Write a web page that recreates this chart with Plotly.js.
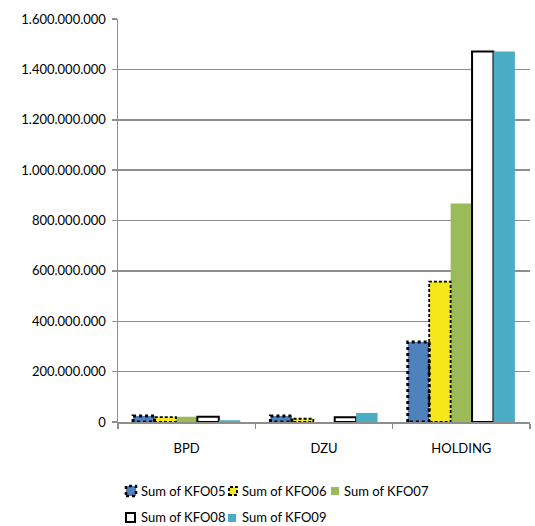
<!DOCTYPE html>
<html>
<head>
<meta charset="utf-8">
<script src="https://cdn.plot.ly/plotly-3.0.1.min.js"></script>
<style>
  html, body { margin: 0; padding: 0; background: #fff; }
  #chart { width: 535px; height: 526px; }
</style>
</head>
<body>
<div id="chart"></div>
<script>
// Categories and yearly sums
const categories = ['BPD', 'DZU', 'HOLDING'];
const seriesNames = ['Sum of KFO05', 'Sum of KFO06', 'Sum of KFO07', 'Sum of KFO08', 'Sum of KFO09'];
const kfo05 = [24e6, 24e6, 318e6];
const kfo06 = [19e6, 13e6, 557e6];
const kfo07 = [21e6, 0, 867e6];
const kfo08 = [21e6, 19e6, 1471e6];
const kfo09 = [7e6, 36e6, 1471e6];
const yTicks = [0, 2e8, 4e8, 6e8, 8e8, 1e9, 1.2e9, 1.4e9, 1.6e9];

const W = 535, H = 526;
const M = { l: 118, r: 5, t: 19, b: 104 };
const FONT = 'Lato, "Open Sans", sans-serif';

const values = [kfo05, kfo06, kfo07, kfo08, kfo09];
const styles = [
  { fill: '#4F81BD', line: { width: 0 }, outline: { color: '#000', width: 3, dash: 'dot' } },
  { fill: '#F6E71A', line: { width: 0 }, outline: { color: '#000', width: 1.8, dash: '3px,2px' } },
  { fill: '#9BBB59', line: { width: 0 } },
  { fill: '#FFFFFF', line: { width: 2, color: '#000' } },
  { fill: '#4BACC6', line: { width: 0 } }
];

// five bars side by side in each category slot
const slot = 0.78;
const barW = slot / values.length;
const xIdx = categories.map((_, i) => i);

const traces = [];
values.forEach((vals, s) => {
  const off = -slot / 2 + s * barW;
  traces.push({
    type: 'bar',
    name: seriesNames[s],
    x: xIdx,
    y: vals,
    width: barW,
    offset: off,
    marker: { color: styles[s].fill, line: styles[s].line },
    showlegend: false,
    hoverinfo: 'name+y'
  });
});

// patterned borders around the bars of the first two series
values.forEach((vals, s) => {
  const o = styles[s].outline;
  if (!o) return;
  const off = -slot / 2 + s * barW;
  const xs = [], ys = [];
  vals.forEach((v, i) => {
    const x0 = i + off, x1 = i + off + barW;
    xs.push(x0, x0, x1, x1, x0, null);
    ys.push(0, v, v, 0, 0, null);
  });
  traces.push({
    type: 'scatter', mode: 'lines', x: xs, y: ys,
    line: { color: o.color, width: o.width, dash: o.dash },
    cliponaxis: false, showlegend: false, hoverinfo: 'skip'
  });
});

// legend drawn below the plot area, in pixel positions of the page
const pw = W - M.l - M.r, ph = H - M.t - M.b;
const px = v => (v - M.l) / pw;
const py = v => (H - M.b - v) / ph;

const legendItems = [
  { s: 0, sx: [126, 136], sy: [486, 496], tx: 139, ty: 491 },
  { s: 1, sx: [229, 237], sy: [487, 495], tx: 240, ty: 491 },
  { s: 2, sx: [331, 339], sy: [487, 495], tx: 342, ty: 491 },
  { s: 3, sx: [126, 135], sy: [513, 522], tx: 139, ty: 517 },
  { s: 4, sx: [228, 236], sy: [514, 522], tx: 240, ty: 517 }
];
const shapes = [];
const annotations = [];
legendItems.forEach(it => {
  const st = styles[it.s];
  let line = { width: 0 };
  if (st.outline) line = { color: st.outline.color, width: Math.min(st.outline.width, 2.5), dash: st.outline.dash };
  else if (st.line.width) line = { color: st.line.color, width: st.line.width };
  shapes.push({
    type: 'rect', xref: 'paper', yref: 'paper',
    x0: px(it.sx[0]), x1: px(it.sx[1]), y0: py(it.sy[1]), y1: py(it.sy[0]),
    fillcolor: st.fill, line: line
  });
  annotations.push({
    xref: 'paper', yref: 'paper', x: px(it.tx), y: py(it.ty),
    xanchor: 'left', yanchor: 'middle', showarrow: false,
    text: seriesNames[it.s], font: { family: FONT, size: 13, color: '#000' }
  });
});

const gridColor = '#8E8E8E';
const layout = {
  width: W, height: H,
  margin: M,
  paper_bgcolor: '#fff', plot_bgcolor: '#fff',
  separators: ',.',
  barmode: 'overlay',
  showlegend: false,
  font: { family: FONT, size: 13, color: '#000' },
  xaxis: {
    range: [-0.5, 2.5],
    tickmode: 'array', tickvals: xIdx, ticktext: categories,
    ticks: '', showgrid: false, zeroline: false,
    showline: true, linecolor: gridColor, linewidth: 1.5,
    ticklabelstandoff: 14,
    minor: { tickmode: 'array', tickvals: [-0.5, 0.5, 1.5, 2.5], ticks: 'outside', ticklen: 5, tickwidth: 1.5, tickcolor: gridColor, showgrid: false },
    tickfont: { family: FONT, size: 13, color: '#000' },
    fixedrange: true
  },
  yaxis: {
    range: [0, 1.6e9],
    tickmode: 'array', tickvals: yTicks,
    tickformat: ',d',
    ticks: 'outside', ticklen: 5, tickwidth: 1.5, tickcolor: gridColor,
    showline: true, linecolor: gridColor, linewidth: 1.5,
    showgrid: true, gridcolor: gridColor, gridwidth: 1.5,
    zeroline: false,
    ticklabelstandoff: 3,
    tickfont: { family: FONT, size: 13, color: '#000' },
    fixedrange: true
  },
  shapes: shapes,
  annotations: annotations
};

Plotly.newPlot('chart', traces, layout, { displayModeBar: false, staticPlot: true });
</script>
</body>
</html>
